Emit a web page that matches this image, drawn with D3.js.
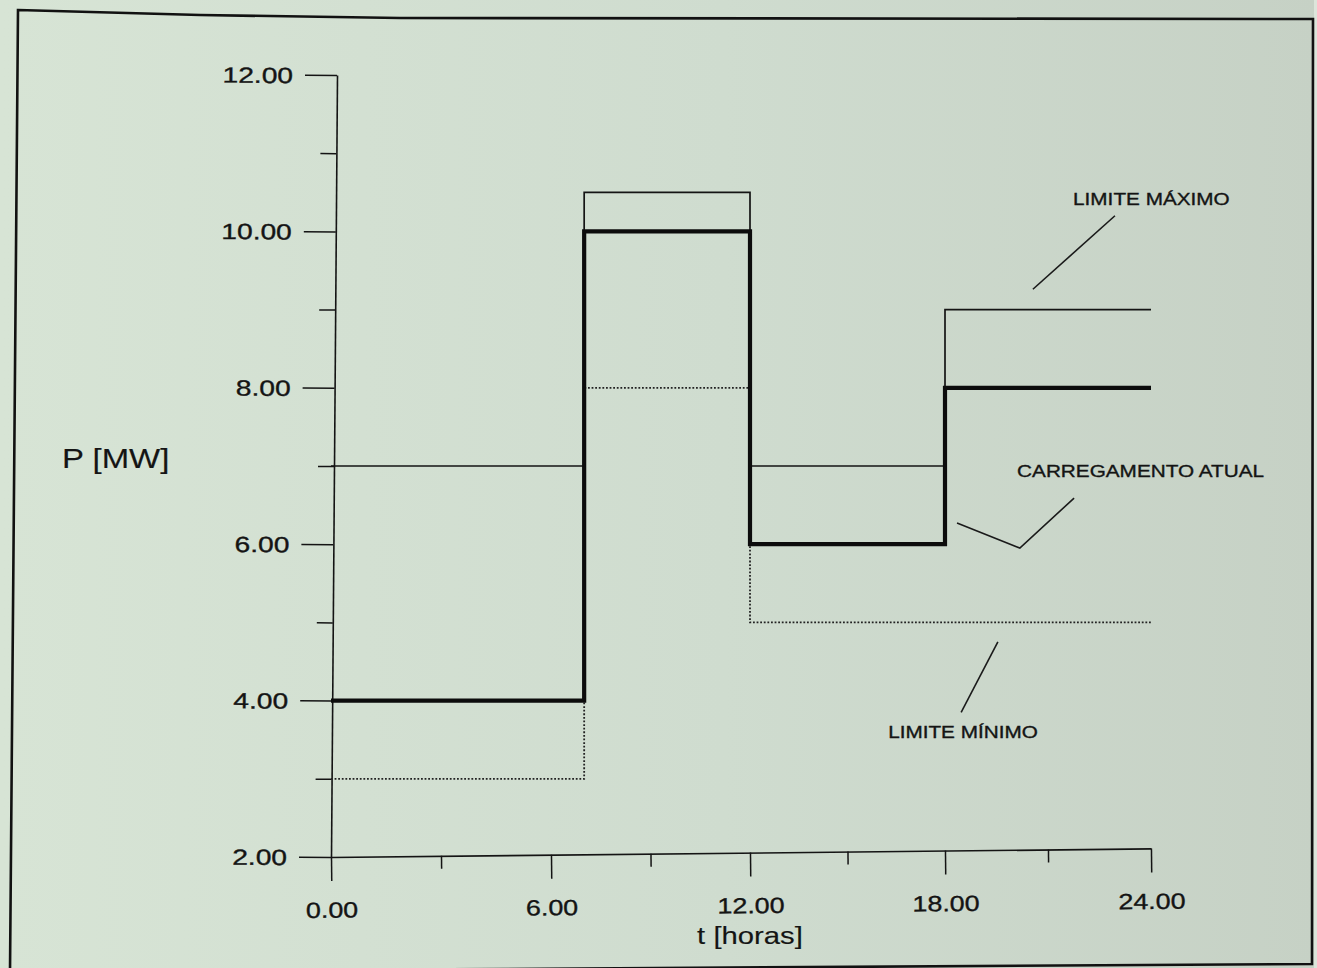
<!DOCTYPE html>
<html>
<head>
<meta charset="utf-8">
<script src="https://cdn.jsdelivr.net/npm/d3@7"></script>
<style>
  html, body { margin: 0; padding: 0; background: #d3dfd2; }
  svg { display: block; }
  text { font-family: "Liberation Sans", Arial, Helvetica, sans-serif; fill: #141414; stroke: #141414; stroke-width: 0.35px; }
</style>
</head>
<body>
<svg id="chart" width="1317" height="968"></svg>
<script>
// Breakpoints of the daily schedule (hours)
const hours = [0, 7, 12, 18, 24];
// Power held over each interval [MW]
const carregamentoAtual = [4, 10, 6, 8];
const limiteMaximo = [7, 10.5, 7, 9];
const limiteMinimo = [3, 8, 5, 5];

// Axis ticks
const xTickValues = [0, 6, 12, 18, 24];
const xMinorTicks = [3, 9, 15, 21];
const yTickValues = [2, 4, 6, 8, 10, 12];
const yMinorTicks = [3, 5, 7, 9, 11];

// Axis titles
const xTitle = "t [horas]";
const yTitle = "P [MW]";

// Curve labels: text, label anchor [h, MW], leader polyline [[h, MW], ...]
const labelTexts = ["LIMITE MÁXIMO", "CARREGAMENTO ATUAL", "LIMITE MÍNIMO"];
const labelAnchors = [[21.73, 10.34], [20.10, 6.86], [16.25, 3.52]];
const leaderLines = [
  [[22.95, 10.20], [20.56, 9.26]],
  [[18.35, 6.27], [20.18, 5.95], [21.76, 6.59]],
  [[19.54, 4.75], [18.47, 3.85]]
];

const W = 1317, H = 968;
const ink = "#141414";
const stretchK = 1.22;   // wide lettering of the printed figure

const svg = d3.select("#chart");

// paper background
const defs = svg.append("defs");
const grad = defs.append("linearGradient").attr("id", "paper")
  .attr("x1", "0").attr("x2", "1").attr("y1", "0").attr("y2", "0");
grad.append("stop").attr("offset", "0%").attr("stop-color", "#d7e4d5");
grad.append("stop").attr("offset", "55%").attr("stop-color", "#cfdccf");
grad.append("stop").attr("offset", "100%").attr("stop-color", "#c6d1c5");
svg.append("rect").attr("width", W).attr("height", H).attr("fill", "url(#paper)");
svg.append("rect").attr("x", 1314).attr("width", W - 1314).attr("height", H).attr("fill", "#dce5da");

// figure frame
const frame = [[18, 10], [200, 15], [400, 18], [1313, 19], [1312, 964], [10, 972]];
svg.append("path")
  .attr("d", d3.line()(frame) + "Z")
  .attr("fill", "none").attr("stroke", "#111").attr("stroke-width", 2.6);

// scales (the printed time axis is slightly uneven between labels)
const x = d3.scaleLinear().domain(xTickValues).range([331, 551, 750, 945, 1151]);
const y = d3.scaleLinear().domain([2, 12]).range([857, 75]);

function stretch(sel, k) {
  sel.each(function () {
    const t = d3.select(this);
    const x0 = +t.attr("x") || 0;
    t.attr("x", x0 / k).attr("transform", `scale(${k},1)`);
  });
}

function styleAxis(g) {
  g.attr("font-family", null).attr("font-size", null);
  g.selectAll("path.domain").attr("stroke", ink).attr("stroke-width", 1.6);
  g.selectAll(".tick line").attr("stroke", ink).attr("stroke-width", 1.5);
}

// y axis
const yAxisG = svg.append("g")
  .attr("transform", `translate(${x(0)},0) rotate(0.44, 0, ${y(2)})`);
yAxisG.append("g")
  .call(d3.axisLeft(y).tickValues(yMinorTicks).tickSize(16).tickSizeOuter(0).tickFormat(""))
  .call(styleAxis)
  .call(g => g.select(".domain").remove());
const yMajor = yAxisG.append("g")
  .call(d3.axisLeft(y).tickValues(yTickValues).tickSize(32).tickSizeOuter(0)
    .tickPadding(12).tickFormat(d3.format(".2f")))
  .call(styleAxis);
yMajor.selectAll(".tick text")
  .attr("font-size", 22).attr("fill", ink).attr("dy", "0.36em")
  .call(stretch, 1.28);

// x axis
const xAxisG = svg.append("g")
  .attr("transform", `translate(0,${y(2)}) rotate(-0.6, ${x(0)}, 0)`);
xAxisG.append("g")
  .call(d3.axisBottom(x).tickValues(xMinorTicks).tickSize(13).tickSizeOuter(0).tickFormat(""))
  .call(styleAxis)
  .call(g => g.select(".domain").remove());
const xMajor = xAxisG.append("g")
  .call(d3.axisBottom(x).tickValues(xTickValues).tickSize(24).tickSizeOuter(0)
    .tickPadding(21).tickFormat(d3.format(".2f")))
  .call(styleAxis);
xMajor.selectAll(".tick text")
  .attr("font-size", 22).attr("fill", ink)
  .call(stretch, stretchK);

// axis titles
svg.append("text")
  .attr("transform", `translate(62,468) scale(${stretchK},1)`)
  .attr("font-size", 27)
  .style("stroke-width", "0.15px")
  .text(yTitle);
svg.append("text")
  .attr("transform", `translate(${x(12)},944) scale(${stretchK},1)`)
  .attr("text-anchor", "middle")
  .attr("font-size", 24)
  .style("stroke-width", "0.15px")
  .text(xTitle);

// step curves
const stepLine = d3.line()
  .x(d => x(d[0])).y(d => y(d[1]))
  .curve(d3.curveStepAfter);
const toSteps = vals => hours.map((h, i) => [h, vals[Math.min(i, vals.length - 1)]]);

svg.append("path")
  .attr("d", stepLine(toSteps(limiteMinimo)))
  .attr("fill", "none").attr("stroke", "#222")
  .attr("stroke-width", 1.8).attr("stroke-dasharray", "1.8,1.8");
svg.append("path")
  .attr("d", stepLine(toSteps(limiteMaximo)))
  .attr("fill", "none").attr("stroke", ink).attr("stroke-width", 1.7);
svg.append("path")
  .attr("d", stepLine(toSteps(carregamentoAtual)))
  .attr("fill", "none").attr("stroke", "#0c0c0c").attr("stroke-width", 4.2)
  .attr("stroke-linejoin", "miter");

// curve labels with leader lines
const lead = d3.line().x(d => x(d[0])).y(d => y(d[1]));
leaderLines.forEach(pts => {
  svg.append("path").attr("d", lead(pts))
    .attr("fill", "none").attr("stroke", "#1a1a1a").attr("stroke-width", 1.6);
});
labelTexts.forEach((t, i) => {
  const [h, p] = labelAnchors[i];
  svg.append("text")
    .attr("transform", `translate(${x(h)},${y(p)}) scale(${stretchK},1)`)
    .attr("font-size", 17)
    .text(t);
});
</script>
</body>
</html>
